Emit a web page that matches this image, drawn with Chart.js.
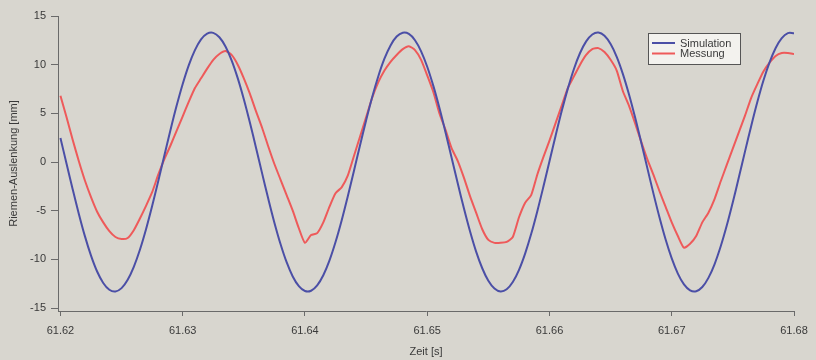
<!DOCTYPE html>
<html>
<head>
<meta charset="utf-8">
<script src="https://cdn.jsdelivr.net/npm/chart.js@4/dist/chart.umd.min.js"></script>
<style>
html,body{margin:0;padding:0;background:#d8d6cf;}
#wrap{width:816px;height:360px;}
</style>
</head>
<body>
<div id="wrap"><canvas id="c" width="816" height="360"></canvas></div>
<script>
// Time axis (s)
const time = [
61.6200,61.6205,61.6210,61.6215,61.6220,61.6225,61.6230,61.6235,61.6240,61.6245,
61.6250,61.6255,61.6260,61.6265,61.6270,61.6275,61.6280,61.6285,61.6290,61.6295,
61.6300,61.6305,61.6310,61.6315,61.6320,61.6325,61.6330,61.6335,61.6340,61.6345,
61.6350,61.6355,61.6360,61.6365,61.6370,61.6375,61.6380,61.6385,61.6390,61.6395,
61.6400,61.6405,61.6410,61.6415,61.6420,61.6425,61.6430,61.6435,61.6440,61.6445,
61.6450,61.6455,61.6460,61.6465,61.6470,61.6475,61.6480,61.6485,61.6490,61.6495,
61.6500,61.6505,61.6510,61.6515,61.6520,61.6525,61.6530,61.6535,61.6540,61.6545,
61.6550,61.6555,61.6560,61.6565,61.6570,61.6575,61.6580,61.6585,61.6590,61.6595,
61.6600,61.6605,61.6610,61.6615,61.6620,61.6625,61.6630,61.6635,61.6640,61.6645,
61.6650,61.6655,61.6660,61.6665,61.6670,61.6675,61.6680,61.6685,61.6690,61.6695,
61.6700,61.6705,61.6710,61.6715,61.6720,61.6725,61.6730,61.6735,61.6740,61.6745,
61.6750,61.6755,61.6760,61.6765,61.6770,61.6775,61.6780,61.6785,61.6790,61.6795,
61.6800
];

// Simulation (mm)
const simulation = [
2.46,-0.17,-2.79,-5.30,-7.61,-9.61,-11.24,-12.42,-13.12,-13.29,
-12.95,-12.09,-10.76,-9.01,-6.90,-4.52,-1.96,0.68,3.29,5.77,
8.02,9.96,11.50,12.60,13.19,13.27,12.82,11.87,10.45,8.62,
6.45,4.03,1.45,-1.19,-3.78,-6.23,-8.42,-10.29,-11.75,-12.75,
-13.25,-13.22,-12.67,-11.63,-10.13,-8.22,-6.00,-3.54,-0.94,1.70,
4.27,6.68,8.81,10.61,11.98,12.89,13.28,13.16,12.51,11.37,
9.79,7.82,5.54,3.04,0.42,-2.21,-4.75,-7.11,-9.20,-10.91,
-12.20,-13.00,-13.30,-13.07,-12.33,-11.10,-9.43,-7.40,-5.07,-2.54,
0.09,2.71,5.23,7.54,9.56,11.20,12.39,13.10,13.30,12.97,
12.12,10.81,9.06,6.96,4.59,2.03,-0.60,-3.22,-5.70,-7.96,
-9.90,-11.46,-12.57,-13.18,-13.27,-12.84,-11.90,-10.50,-8.68,-6.52,
-4.10,-1.52,1.12,3.71,6.16,8.37,10.24,11.72,12.73,13.24,
13.23
];

// Messung (mm)
const messung = [
6.8,4.6,2.3,0.1,-1.9,-3.6,-5.1,-6.2,-7.1,-7.7,
-7.9,-7.8,-7.0,-5.8,-4.5,-3.1,-1.3,0.3,1.7,3.2,
4.7,6.2,7.6,8.6,9.6,10.5,11.1,11.4,11.0,10.0,
8.6,7.0,5.2,3.5,1.6,-0.2,-1.8,-3.4,-5.0,-6.8,
-8.3,-7.5,-7.3,-6.2,-4.6,-3.2,-2.6,-1.4,0.6,2.6,
4.6,6.6,8.2,9.4,10.3,11.0,11.6,11.9,11.5,10.5,
8.9,7.2,5.0,3.3,1.4,0.1,-1.6,-3.5,-5.2,-6.9,
-8.0,-8.3,-8.3,-8.2,-7.7,-5.7,-4.2,-3.4,-1.3,0.5,
2.2,4.0,5.8,7.6,8.8,10.0,11.0,11.6,11.7,11.3,
10.5,9.4,7.3,5.8,4.0,2.1,0.3,-1.3,-3.0,-4.6,
-6.2,-7.6,-8.8,-8.4,-7.6,-6.2,-5.2,-3.8,-2.0,-0.3,
1.4,3.1,4.8,6.6,8.0,9.3,10.2,10.9,11.2,11.2,
11.1
];

const seriesNames = ['Simulation', 'Messung'];
const xTicks = [61.62, 61.63, 61.64, 61.65, 61.66, 61.67, 61.68];
const yTicks = [-15, -10, -5, 0, 5, 10, 15];
const xTitle = 'Zeit [s]';
const yTitle = 'Riemen-Auslenkung [mm]';

const FONT = 'Liberation Sans, Arial, sans-serif';
const TEXT = '#3a3a3a';
const AXIS = '#6a6a6a';
const BG = '#d8d6cf';

const bgPlugin = {
  id: 'bg',
  beforeDraw(chart) {
    const ctx = chart.ctx;
    ctx.save();
    ctx.fillStyle = BG;
    ctx.fillRect(0, 0, chart.width, chart.height);
    ctx.restore();
  }
};

const boxLegend = {
  id: 'boxLegend',
  afterDraw(chart) {
    const ctx = chart.ctx;
    const x = 648, y = 33, w = 92, h = 31;
    ctx.save();
    ctx.fillStyle = '#f3f2ee';
    ctx.fillRect(x, y, w, h);
    ctx.strokeStyle = '#555555';
    ctx.lineWidth = 1;
    ctx.strokeRect(x + 0.5, y + 0.5, w, h);
    ctx.font = '11px ' + FONT;
    ctx.textBaseline = 'middle';
    ctx.textAlign = 'left';
    chart.data.datasets.forEach((ds, i) => {
      const cy = y + 10 + i * 10.5;
      ctx.strokeStyle = ds.borderColor;
      ctx.lineWidth = 2;
      ctx.beginPath();
      ctx.moveTo(x + 4, cy);
      ctx.lineTo(x + 27, cy);
      ctx.stroke();
      ctx.fillStyle = TEXT;
      ctx.fillText(ds.label, x + 32, cy + 0.5);
    });
    ctx.restore();
  }
};

new Chart(document.getElementById('c'), {
  type: 'line',
  data: {
    datasets: [
      {
        label: seriesNames[0],
        data: time.map((t, i) => ({x: t, y: simulation[i]})),
        borderColor: '#4b4fa6',
        borderWidth: 2,
        pointRadius: 0,
        tension: 0.35,
        fill: false
      },
      {
        label: seriesNames[1],
        data: time.map((t, i) => ({x: t, y: messung[i]})),
        borderColor: '#ee5a5a',
        borderWidth: 2,
        pointRadius: 0,
        tension: 0.2,
        fill: false
      }
    ]
  },
  options: {
    responsive: false,
    animation: false,
    devicePixelRatio: 1,
    layout: {padding: {left: 0, right: 22, top: 16, bottom: 0}},
    plugins: {legend: {display: false}, tooltip: {enabled: false}},
    scales: {
      x: {
        type: 'linear',
        min: 61.6198,
        max: 61.68,
        afterBuildTicks: s => { s.ticks = xTicks.map(v => ({value: v})); },
        afterFit: s => { s.height = 49; },
        grid: {display: true, drawOnChartArea: false, drawTicks: true, tickLength: 5, tickColor: AXIS},
        border: {display: true, color: AXIS, width: 1},
        ticks: {
          color: TEXT, font: {family: FONT, size: 11}, padding: 8,
          maxRotation: 0, autoSkip: false,
          callback: v => Number(v).toFixed(2)
        },
        title: {display: true, text: xTitle, color: TEXT, font: {family: FONT, size: 11}, padding: {top: 0, bottom: 1}}
      },
      y: {
        type: 'linear',
        min: -15.3,
        max: 15,
        afterBuildTicks: s => { s.ticks = yTicks.map(v => ({value: v})); },
        afterFit: s => { s.width = 58; },
        grid: {display: true, drawOnChartArea: false, drawTicks: true, tickLength: 7, tickColor: AXIS},
        border: {display: true, color: AXIS, width: 1},
        ticks: {
          color: TEXT, font: {family: FONT, size: 11}, padding: 5, autoSkip: false,
          callback: v => String(v)
        },
        title: {display: true, text: yTitle, color: TEXT, font: {family: FONT, size: 11}, padding: {top: 7, bottom: 0}}
      }
    }
  },
  plugins: [bgPlugin, boxLegend]
});
</script>
</body>
</html>
